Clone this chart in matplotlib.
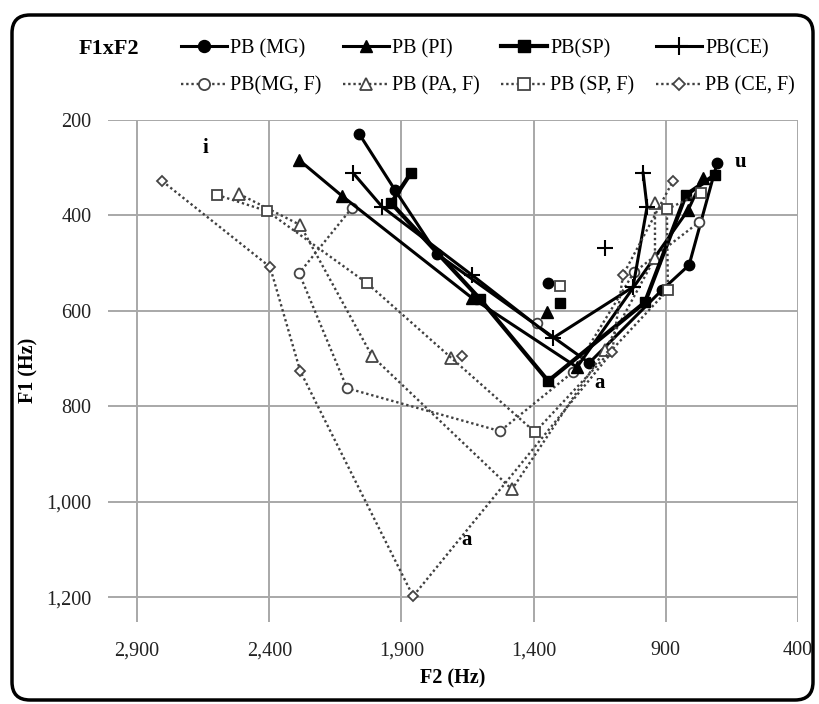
import numpy as np
import matplotlib
matplotlib.use("Agg")
import matplotlib.pyplot as plt
import matplotlib.patches as mpatches
from matplotlib.ticker import FuncFormatter, FixedLocator

plt.rcParams['font.family'] = ['Liberation Serif', 'DejaVu Serif']

# ---- data: (F2, F1) in Hz; *_iso is an unconnected point of the same series ----
mg_f2 = [2060, 1924, 1765, 1190, 914, 812, 706]
mg_f1 = [229, 347, 481, 709, 556, 504, 290]
mg_iso = (1345, 542)

pi_f2 = [2287, 2125, 1633, 1236, 816, 759]
pi_f1 = [284, 359, 573, 718, 389, 322]
pi_iso = (1349, 603)

sp_f2 = [1864, 1939, 1603, 1345, 979, 824, 714]
sp_f1 = [311, 374, 575, 747, 582, 357, 315]
sp_iso = (1300, 584)

ce_f2 = [2083, 1973, 1633, 1327, 1024, 971, 986]
ce_f1 = [311, 382, 525, 657, 550, 382, 311]
ce_iso = (1130, 468)

mgf_f2 = [2087, 2287, 2106, 1527, 1251, 1020, 774]
mgf_f1 = [384, 521, 762, 852, 728, 519, 414]
mgf_iso = (1387, 626)

paf_f2 = [2514, 2283, 2011, 1482, 1130, 941, 941]
paf_f1 = [355, 420, 695, 974, 682, 489, 374]
paf_iso = (1712, 699)

spf_f2 = [2597, 2408, 2030, 1395, 892, 896, 767]
spf_f1 = [357, 391, 542, 854, 556, 387, 353]
spf_iso = (1300, 548)

cef_f2 = [2805, 2397, 2283, 1856, 1103, 1062, 873]
cef_f1 = [328, 508, 726, 1198, 686, 525, 328]
cef_iso = (1671, 695)

x_ticks = [2900, 2400, 1900, 1400, 900, 400]
y_ticks = [200, 400, 600, 800, 1000, 1200]

W, H = 820, 704
fig = plt.figure(figsize=(W / 100, H / 100), dpi=100)
fig.patch.set_facecolor('white')
ax = fig.add_axes([108 / W, 1 - 622 / H, (798 - 108) / W, (622 - 120) / H])
ax.set_xlim(3010, 400)
ax.set_ylim(1252, 200)
for s in ax.spines.values():
    s.set_visible(False)
ax.xaxis.set_major_locator(FixedLocator(x_ticks))
ax.yaxis.set_major_locator(FixedLocator(y_ticks))
fmt = FuncFormatter(lambda v, p: f"{v:,.0f}")
ax.xaxis.set_major_formatter(fmt)
ax.yaxis.set_major_formatter(fmt)
ax.tick_params(length=0, labelsize=14.5, colors='#222222')
ax.tick_params(axis='x', pad=14)
ax.tick_params(axis='y', pad=12)
ax.grid(True, color='#a8a8a8', lw=1.4)
ax.set_axisbelow(True)

solid = dict(color='black', lw=2.2, markeredgecolor='black', markerfacecolor='black')
dot_ls = (0, (1, 1.2))
dotted = dict(color='#404040', lw=1.7, ls=dot_ls, markeredgecolor='#444444',
              markerfacecolor='white', markeredgewidth=1.3)

series = [
    (mg_f2, mg_f1, mg_iso, 'PB (MG)', dict(solid, marker='o', ms=7.5)),
    (mgf_f2, mgf_f1, mgf_iso, 'PB(MG, F)', dict(dotted, marker='o', ms=7)),
    (pi_f2, pi_f1, pi_iso, 'PB (PI)', dict(solid, marker='^', ms=8)),
    (paf_f2, paf_f1, paf_iso, 'PB (PA, F)', dict(dotted, marker='^', ms=8)),
    (sp_f2, sp_f1, sp_iso, 'PB(SP)', dict(solid, marker='s', ms=7.5, lw=3.0)),
    (spf_f2, spf_f1, spf_iso, 'PB (SP, F)', dict(dotted, marker='s', ms=7)),
    (ce_f2, ce_f1, ce_iso, 'PB(CE)', dict(solid, marker='+', ms=11, markeredgewidth=1.5)),
    (cef_f2, cef_f1, cef_iso, 'PB (CE, F)', dict(dotted, marker='D', ms=5.5)),
]

handles = []
for f2, f1, iso, label, style in series:
    ln, = ax.plot(f2, f1, label=label, zorder=3, **style)
    iso_style = {k: v for k, v in style.items() if k not in ('ls', 'lw')}
    ax.plot([iso[0]], [iso[1]], ls='none', zorder=3, **iso_style)
    handles.append(ln)

ax.legend(handles=handles, ncol=4, frameon=False, fontsize=14.5,
          loc='upper left', bbox_to_anchor=(181 / W, 1 - 39 / H),
          bbox_transform=fig.transFigure, handlelength=2.3, handletextpad=0.15,
          columnspacing=1.05, labelspacing=0.9, borderpad=0, borderaxespad=0,
          markerscale=1.15)

# vowel labels
ax.text(2643, 259, 'i', fontsize=15, fontweight='bold', ha='center', va='center')
ax.text(616, 288, 'u', fontsize=15, fontweight='bold', ha='center', va='center')
ax.text(1149, 751, 'a', fontsize=15, fontweight='bold', ha='center', va='center')
ax.text(1652, 1080, 'a', fontsize=15, fontweight='bold', ha='center', va='center')

fig.text(109 / W, 1 - 49 / H, 'F1xF2', fontsize=16, fontweight='bold', ha='center', va='center')
fig.text(453 / W, 1 - 678 / H, 'F2 (Hz)', fontsize=14.5, fontweight='bold', ha='center', va='center')
fig.text(28 / W, 1 - 370 / H, 'F1 (Hz)', fontsize=14.5, fontweight='bold', ha='center', va='center',
         rotation=90)

border = mpatches.FancyBboxPatch((12, 4), 801, 685, boxstyle="round,pad=0,rounding_size=18",
                                 transform=None, fill=False, ec='black', lw=2.5)
fig.patches.append(border)

fig.savefig('out.png', dpi=100)
